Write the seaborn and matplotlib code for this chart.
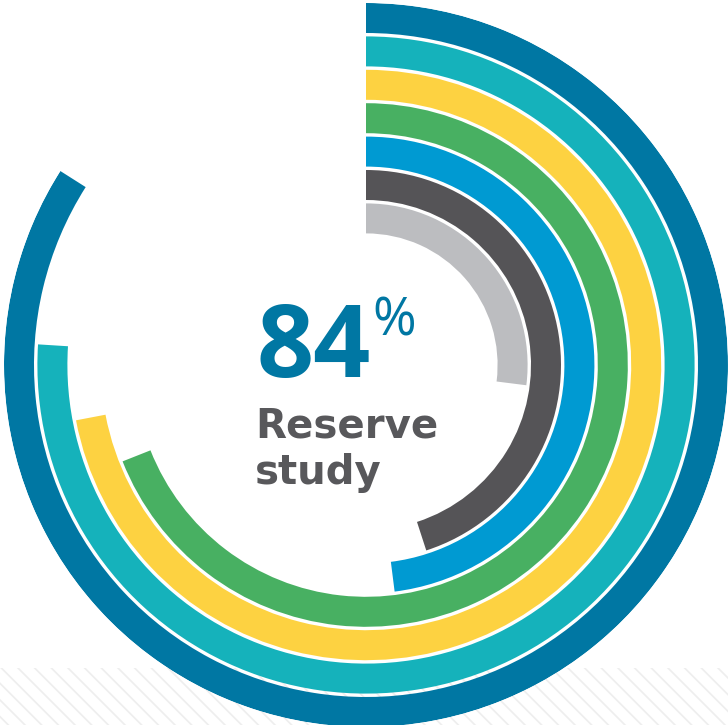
import numpy as np
import seaborn as sns
import matplotlib.pyplot as plt
from matplotlib.patches import Rectangle

# ring values, outer to inner (percent of full circle)
labels = ["Reserve study", "Ring 2", "Ring 3", "Ring 4", "Ring 5", "Ring 6", "Ring 7"]
values = [84, 76, 72, 69, 48, 45, 27]
colors = ["#0077A3", "#15B2BB", "#FDD241", "#48B062", "#009AD2", "#555457", "#BCBDC0"]

headline = "84"
caption = ["Reserve", "study"]

sns.set_style("white")
plt.rcParams['font.family'] = ['Open Sans', 'DejaVu Sans']
plt.rcParams['hatch.linewidth'] = 1.2

fig = plt.figure(figsize=(7.28, 7.25), dpi=100)

# faint diagonal hatching along the bottom
band = Rectangle((0, 0), 1, 57 / 725, transform=fig.transFigure, facecolor="none",
                 edgecolor="#eeeeee", hatch="\\\\", linewidth=0, zorder=0)
fig.patches.append(band)

ax = fig.add_axes([4 / 728, -2 / 725, 724 / 728, 724 / 725], projection="polar")
ax.set_zorder(2)
ax.patch.set_visible(False)
ax.set_theta_zero_location("N")
ax.set_theta_direction(-1)

outer = 362
step = 33.4
thick = 30
radii = [outer - step * i - thick / 2 for i in range(len(values))]
widths = [v / 100 * 2 * np.pi for v in values]
ax.barh(radii, widths, left=0, height=thick, color=colors, align="center", linewidth=0)

ax.set_ylim(0, outer)
ax.set_axis_off()

fig.text(256 / 728, (725 - 377) / 725, headline, color="#0077A3", fontsize=72,
         fontweight="bold", ha="left", va="baseline", zorder=3)
fig.text(372 / 728, (725 - 295) / 725, "%", color="#0077A3", fontsize=38,
         fontweight="normal", ha="left", va="top", zorder=3)
for i, line in enumerate(caption):
    fig.text(255 / 728, (725 - 438 - 46 * i) / 725, line, color="#58585B", fontsize=29,
             fontweight="bold", family="DejaVu Sans", ha="left", va="baseline", zorder=3)

fig.savefig("out.png", dpi=100)
